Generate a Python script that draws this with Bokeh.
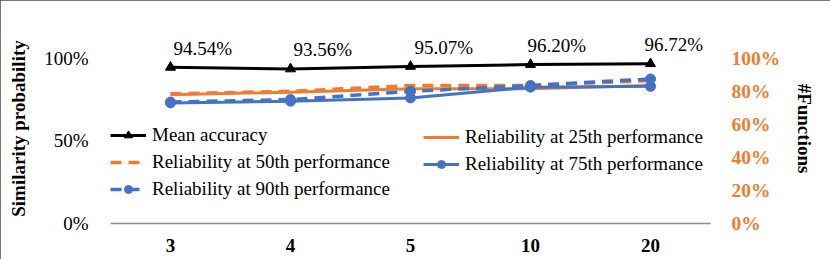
from bokeh.plotting import figure
from bokeh.models import (ColumnDataSource, FactorRange, Range1d, LinearAxis, FixedTicker,
                          NumeralTickFormatter, Legend, LegendItem)
from bokeh.core.properties import value
from bokeh.embed import file_html
from bokeh.resources import INLINE

categories = ["3", "4", "5", "10", "20"]
mean_accuracy = [0.9454, 0.9356, 0.9507, 0.9620, 0.9672]
mean_labels = ["94.54%", "93.56%", "95.07%", "96.20%", "96.72%"]
rel_25 = [0.780, 0.795, 0.815, 0.815, 0.835]
rel_50 = [0.785, 0.800, 0.835, 0.835, 0.865]
rel_75 = [0.730, 0.740, 0.760, 0.825, 0.830]
rel_90 = [0.735, 0.750, 0.800, 0.835, 0.875]
left_ticks = [0, 0.5, 1.0]
right_ticks = [0, 0.2, 0.4, 0.6, 0.8, 1.0]
label_dx = [3, 3, 4, -3, -6]

FONT = "Liberation Serif"
ORANGE = "#ED7D31"
BLUE = "#4472C4"

p = figure(width=830, height=259, x_range=FactorRange(*categories, range_padding=0),
           y_range=Range1d(0, 1.15), output_backend="svg", toolbar_location=None,
           min_border_left=110, min_border_right=120, min_border_top=33, min_border_bottom=36)
p.styles = {"outline": "2px solid #4a4a4a", "outline-offset": "-2px"}
p.outline_line_color = None
p.xgrid.visible = False
p.ygrid.visible = False

p.extra_y_ranges = {"right": Range1d(0, 1.15)}

# left axis
p.yaxis.ticker = FixedTicker(ticks=left_ticks)
p.yaxis.formatter = NumeralTickFormatter(format="0%")
p.yaxis.axis_line_color = None
p.yaxis.major_tick_line_color = None
p.yaxis.minor_tick_line_color = None
p.yaxis.major_label_text_font = FONT
p.yaxis.major_label_text_font_size = "19px"
p.yaxis.major_label_text_color = "#000000"
p.yaxis.major_label_standoff = 16
p.yaxis.axis_label = "Similarity probability"
p.yaxis.axis_label_text_font = FONT
p.yaxis.axis_label_text_font_size = "19px"
p.yaxis.axis_label_text_font_style = "bold"
p.yaxis.axis_label_text_color = "#000000"
p.yaxis.axis_label_standoff = 12

# x axis
p.xaxis.axis_line_color = "#8c8c8c"
p.xaxis.axis_line_width = 1.5
p.xaxis.major_tick_line_color = None
p.xaxis.minor_tick_line_color = None
p.xaxis.major_label_text_font = FONT
p.xaxis.major_label_text_font_size = "19px"
p.xaxis.major_label_text_font_style = "bold"
p.xaxis.major_label_text_color = "#000000"
p.xaxis.major_label_standoff = 9

# right axis
ra = LinearAxis(y_range_name="right", ticker=FixedTicker(ticks=right_ticks),
                formatter=NumeralTickFormatter(format="0%"))
ra.axis_line_color = None
ra.major_tick_line_color = None
ra.minor_tick_line_color = None
ra.major_label_text_font = FONT
ra.major_label_text_font_size = "19.5px"
ra.major_label_text_font_style = "bold"
ra.major_label_text_color = ORANGE
ra.major_label_standoff = 15
ra.axis_label = "#Functions"
ra.axis_label_orientation = "vertical"
ra.axis_label_text_font = FONT
ra.axis_label_text_font_size = "19px"
ra.axis_label_text_font_style = "bold"
ra.axis_label_text_color = "#000000"
ra.axis_label_standoff = 11
p.add_layout(ra, "right")

src = ColumnDataSource(dict(x=categories, mean=mean_accuracy, r25=rel_25, r50=rel_50,
                            r75=rel_75, r90=rel_90, lab=mean_labels, dx=label_dx))

m_line = p.line("x", "mean", source=src, line_color="black", line_width=3)
m_mark = p.scatter("x", "mean", source=src, marker="triangle", size=10, color="black")
r25_line = p.line("x", "r25", source=src, line_color=ORANGE, line_width=3)
r50_line = p.line("x", "r50", source=src, line_color=ORANGE, line_width=3.5, line_dash="11 7")
r75_line = p.line("x", "r75", source=src, line_color=BLUE, line_width=3)
r75_mark = p.scatter("x", "r75", source=src, marker="circle", size=10, color=BLUE)
r90_line = p.line("x", "r90", source=src, line_color=BLUE, line_width=3.5, line_dash="11 7")
r90_mark = p.scatter("x", "r90", source=src, marker="circle", size=10, color=BLUE)

p.text("x", "mean", text="lab", source=src, x_offset="dx", y_offset=-19,
       text_align="left", text_baseline="middle", text_font=value(FONT),
       text_font_size="19px", text_color="black")

def mk_legend(items, loc):
    lg = Legend(items=items, location=loc, orientation="vertical")
    lg.label_text_font = FONT
    lg.label_text_font_size = "19px"
    lg.label_text_color = "black"
    lg.glyph_width = 36
    lg.glyph_height = 20
    lg.label_height = 20
    lg.label_standoff = 6
    lg.spacing = 5
    lg.padding = 0
    lg.margin = 0
    lg.border_line_color = None
    lg.background_fill_alpha = 0
    return lg

leg1 = mk_legend([
    LegendItem(label="Mean accuracy", renderers=[m_line, m_mark]),
    LegendItem(label="Reliability at 50th performance", renderers=[r50_line]),
    LegendItem(label="Reliability at 90th performance", renderers=[r90_line, r90_mark]),
], (0, 23))
leg2 = mk_legend([
    LegendItem(label="Reliability at 25th performance", renderers=[r25_line]),
    LegendItem(label="Reliability at 75th performance", renderers=[r75_line, r75_mark]),
], (313, 48))
p.add_layout(leg1, "center")
p.add_layout(leg2, "center")

open("out.html", "w").write(file_html(p, INLINE))
